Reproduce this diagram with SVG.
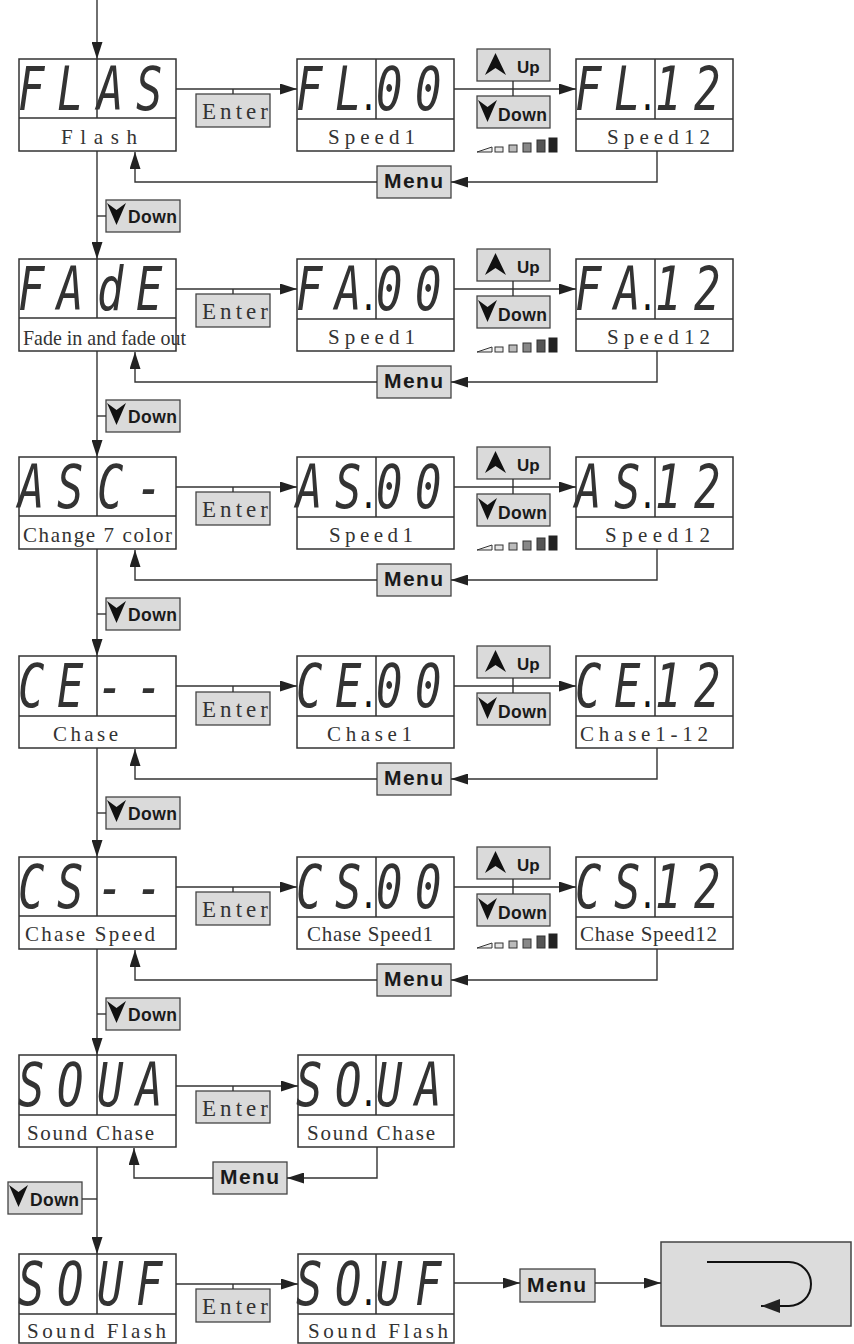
<svg xmlns="http://www.w3.org/2000/svg" xmlns:xlink="http://www.w3.org/1999/xlink" width="854" height="1344" viewBox="0 0 854 1344">
<style>
.box{fill:#fff;stroke:#333;stroke-width:1.5}
.dv{fill:none;stroke:#333;stroke-width:1.5}
.btn{fill:#dadada;stroke:#444;stroke-width:1.3}
.ln{fill:none;stroke:#333;stroke-width:1.4}
.lbl{font-family:"Liberation Serif",serif;font-size:21px;fill:#333}
.ent{font-family:"Liberation Serif",serif;font-size:23px;fill:#333}
.bt{font-family:"Liberation Sans",Arial,sans-serif;font-weight:bold;fill:#1a1a1a}
.up{font-size:17px}
.dn{font-size:17.5px}
.mn{font-size:21px}
.seg{font-family:"DejaVu Sans Mono",monospace;font-size:61px;font-style:oblique;fill:#333}
.dp{font-size:32px;font-style:normal;font-weight:bold;fill:#111}
.chev{fill:#111}
</style>
<defs>
<marker id="ah" viewBox="0 0 17 11" refX="17" refY="5.5" markerWidth="17" markerHeight="11" orient="auto" markerUnits="userSpaceOnUse"><path d="M0,0 L17,5.5 L0,11 Z" fill="#222"/></marker>
<marker id="ahb" viewBox="0 0 19 14" refX="19" refY="7" markerWidth="19" markerHeight="14" orient="auto" markerUnits="userSpaceOnUse"><path d="M0,0 L19,7 L0,14 Z" fill="#222"/></marker>
<path id="cu" d="M0,22 L10.5,0 L21,22 L10.5,15 Z"/>
<path id="cd" d="M0,0 L9.5,7 L19,0 L9.5,22 Z"/>
<g id="bars">
<polygon points="477,152 492,147 492,152" fill="#eee" stroke="#333" stroke-width="1"/>
<rect x="495" y="147" width="8" height="5" fill="#e6e6e6" stroke="#333" stroke-width="1"/>
<rect x="509" y="145" width="8" height="7" fill="#bbb" stroke="#333" stroke-width="1"/>
<rect x="523" y="143" width="8" height="9" fill="#888" stroke="#333" stroke-width="1"/>
<rect x="537" y="140" width="8" height="12" fill="#555" stroke="#333" stroke-width="1"/>
<rect x="549" y="138" width="8" height="14" fill="#222" stroke="#222" stroke-width="1"/>
</g>
</defs>
<rect width="854" height="1344" fill="#fff"/>

<!-- Row 1 -->
<g transform="translate(0,0)">
<g id="flash"><rect class="box" x="19" y="59" width="157" height="92"/><path class="dv" d="M19,118H176M97,59V118"/><text class="seg" transform="translate(18,110) scale(0.72,1)" x="0 54">FL</text><text class="seg" transform="translate(97,110) scale(0.72,1)" x="0 54">AS</text><text class="lbl" x="61" y="144" textLength="76">Flash</text></g>
<g id="flash-enter"><rect class="btn" x="196" y="94" width="74" height="33"/><text class="ent" x="202" y="119" textLength="66">Enter</text></g>
<g id="flash-speed1"><rect class="box" x="297" y="59" width="157" height="92"/><path class="dv" d="M297,119H454M376,59V119"/><text class="seg" transform="translate(296,110) scale(0.72,1)" x="0 54">FL<tspan class="dp" x="91">.</tspan></text><text class="seg" transform="translate(376,110) scale(0.72,1)" x="0 54">00</text><text class="lbl" x="328" y="144" textLength="87">Speed1</text></g>
<g id="flash-up"><rect class="btn" x="477" y="49" width="73" height="32"/><use href="#cu" class="chev" x="485" y="53"/><text class="bt up" x="517" y="73">Up</text></g>
<g id="flash-down"><rect class="btn" x="477" y="96" width="73" height="32"/><use href="#cd" class="chev" x="478" y="100"/><text class="bt dn" x="498" y="121" textLength="49">Down</text></g>
<g id="flash-bars"><use href="#bars"/></g>
<g id="flash-speed12"><rect class="box" x="576" y="59" width="157" height="92"/><path class="dv" d="M576,119H733M655,59V119"/><text class="seg" transform="translate(575,110) scale(0.72,1)" x="0 54">FL<tspan class="dp" x="91">.</tspan></text><text class="seg" transform="translate(655,110) scale(0.72,1)" x="0 54">12</text><text class="lbl" x="607" y="144" textLength="103">Speed12</text></g>
<g id="flash-menu"><rect class="btn" x="377" y="166" width="74" height="32"/><text class="bt mn" x="384" y="188" textLength="59">Menu</text></g>
<g id="flash-downkey"><rect class="btn" x="106" y="200" width="74" height="32"/><use href="#cd" class="chev" x="107" y="203"/><text class="bt dn" x="128" y="223" textLength="49">Down</text></g>
</g>

<!-- Row 2 -->
<g transform="translate(0,200)">
<g id="fade"><rect class="box" x="19" y="59" width="157" height="92"/><path class="dv" d="M19,118H176M97,59V118"/><text class="seg" transform="translate(18,110) scale(0.72,1)" x="0 54">FA</text><text class="seg" transform="translate(97,110) scale(0.72,1)" x="0 54">dE</text><text class="lbl" x="23" y="145" textLength="163" lengthAdjust="spacingAndGlyphs">Fade in and fade out</text></g>
<g id="fade-enter"><rect class="btn" x="196" y="94" width="74" height="33"/><text class="ent" x="202" y="119" textLength="66">Enter</text></g>
<g id="fade-speed1"><rect class="box" x="297" y="59" width="157" height="92"/><path class="dv" d="M297,119H454M376,59V119"/><text class="seg" transform="translate(296,110) scale(0.72,1)" x="0 54">FA<tspan class="dp" x="91">.</tspan></text><text class="seg" transform="translate(376,110) scale(0.72,1)" x="0 54">00</text><text class="lbl" x="328" y="144" textLength="87">Speed1</text></g>
<g id="fade-up"><rect class="btn" x="477" y="49" width="73" height="32"/><use href="#cu" class="chev" x="485" y="53"/><text class="bt up" x="517" y="73">Up</text></g>
<g id="fade-down"><rect class="btn" x="477" y="96" width="73" height="32"/><use href="#cd" class="chev" x="478" y="100"/><text class="bt dn" x="498" y="121" textLength="49">Down</text></g>
<g id="fade-bars"><use href="#bars"/></g>
<g id="fade-speed12"><rect class="box" x="576" y="59" width="157" height="92"/><path class="dv" d="M576,119H733M655,59V119"/><text class="seg" transform="translate(575,110) scale(0.72,1)" x="0 54">FA<tspan class="dp" x="91">.</tspan></text><text class="seg" transform="translate(655,110) scale(0.72,1)" x="0 54">12</text><text class="lbl" x="607" y="144" textLength="103">Speed12</text></g>
<g id="fade-menu"><rect class="btn" x="377" y="166" width="74" height="32"/><text class="bt mn" x="384" y="188" textLength="59">Menu</text></g>
<g id="fade-downkey"><rect class="btn" x="106" y="200" width="74" height="32"/><use href="#cd" class="chev" x="107" y="203"/><text class="bt dn" x="128" y="223" textLength="49">Down</text></g>
</g>

<!-- Row 3 -->
<g transform="translate(0,398)">
<g id="asc"><rect class="box" x="19" y="59" width="157" height="92"/><path class="dv" d="M19,118H176M97,59V118"/><text class="seg" transform="translate(18,110) scale(0.72,1)" x="0 54">AS</text><text class="seg" transform="translate(97,110) scale(0.72,1)" x="0 54">C-</text><text class="lbl" x="23" y="144" textLength="149">Change 7 color</text></g>
<g id="asc-enter"><rect class="btn" x="196" y="94" width="74" height="33"/><text class="ent" x="202" y="119" textLength="66">Enter</text></g>
<g id="asc-speed1"><rect class="box" x="297" y="59" width="157" height="92"/><path class="dv" d="M297,119H454M376,59V119"/><text class="seg" transform="translate(296,110) scale(0.72,1)" x="0 54">AS<tspan class="dp" x="91">.</tspan></text><text class="seg" transform="translate(376,110) scale(0.72,1)" x="0 54">00</text><text class="lbl" x="329" y="144" textLength="84">Speed1</text></g>
<g id="asc-up"><rect class="btn" x="477" y="49" width="73" height="32"/><use href="#cu" class="chev" x="485" y="53"/><text class="bt up" x="517" y="73">Up</text></g>
<g id="asc-down"><rect class="btn" x="477" y="96" width="73" height="32"/><use href="#cd" class="chev" x="478" y="100"/><text class="bt dn" x="498" y="121" textLength="49">Down</text></g>
<g id="asc-bars"><use href="#bars"/></g>
<g id="asc-speed12"><rect class="box" x="576" y="59" width="157" height="92"/><path class="dv" d="M576,119H733M655,59V119"/><text class="seg" transform="translate(575,110) scale(0.72,1)" x="0 54">AS<tspan class="dp" x="91">.</tspan></text><text class="seg" transform="translate(655,110) scale(0.72,1)" x="0 54">12</text><text class="lbl" x="605" y="144" textLength="105">Speed12</text></g>
<g id="asc-menu"><rect class="btn" x="377" y="166" width="74" height="32"/><text class="bt mn" x="384" y="188" textLength="59">Menu</text></g>
<g id="asc-downkey"><rect class="btn" x="106" y="200" width="74" height="32"/><use href="#cd" class="chev" x="107" y="203"/><text class="bt dn" x="128" y="223" textLength="49">Down</text></g>
</g>

<!-- Row 4 -->
<g transform="translate(0,597)">
<g id="chase"><rect class="box" x="19" y="59" width="157" height="92"/><path class="dv" d="M19,119H176M97,59V119"/><text class="seg" transform="translate(18,110) scale(0.72,1)" x="0 54">CE</text><text class="seg" transform="translate(97,110) scale(0.72,1)" x="0 54">--</text><text class="lbl" x="53" y="144" textLength="65">Chase</text></g>
<g id="chase-enter"><rect class="btn" x="196" y="95" width="74" height="33"/><text class="ent" x="202" y="120" textLength="66">Enter</text></g>
<g id="chase-1"><rect class="box" x="297" y="59" width="157" height="92"/><path class="dv" d="M297,119H454M376,59V119"/><text class="seg" transform="translate(296,110) scale(0.72,1)" x="0 54">CE<tspan class="dp" x="91">.</tspan></text><text class="seg" transform="translate(376,110) scale(0.72,1)" x="0 54">00</text><text class="lbl" x="327" y="144" textLength="85">Chase1</text></g>
<g id="chase-up"><rect class="btn" x="477" y="49" width="73" height="32"/><use href="#cu" class="chev" x="485" y="53"/><text class="bt up" x="517" y="73">Up</text></g>
<g id="chase-down"><rect class="btn" x="477" y="96" width="73" height="32"/><use href="#cd" class="chev" x="478" y="100"/><text class="bt dn" x="498" y="121" textLength="49">Down</text></g>
<g id="chase-12"><rect class="box" x="576" y="59" width="157" height="92"/><path class="dv" d="M576,119H733M655,59V119"/><text class="seg" transform="translate(575,110) scale(0.72,1)" x="0 54">CE<tspan class="dp" x="91">.</tspan></text><text class="seg" transform="translate(655,110) scale(0.72,1)" x="0 54">12</text><text class="lbl" x="580" y="144" textLength="128">Chase1-12</text></g>
<g id="chase-menu"><rect class="btn" x="377" y="166" width="74" height="32"/><text class="bt mn" x="384" y="188" textLength="59">Menu</text></g>
<g id="chase-downkey"><rect class="btn" x="106" y="200" width="74" height="32"/><use href="#cd" class="chev" x="107" y="203"/><text class="bt dn" x="128" y="223" textLength="49">Down</text></g>
</g>

<!-- Row 5 -->
<g transform="translate(0,798)">
<g id="chasespeed"><rect class="box" x="19" y="59" width="157" height="92"/><path class="dv" d="M19,118H176M97,59V118"/><text class="seg" transform="translate(18,110) scale(0.72,1)" x="0 54">CS</text><text class="seg" transform="translate(97,110) scale(0.72,1)" x="0 54">--</text><text class="lbl" x="25" y="143" textLength="130">Chase Speed</text></g>
<g id="chasespeed-enter"><rect class="btn" x="196" y="94" width="74" height="33"/><text class="ent" x="202" y="119" textLength="66">Enter</text></g>
<g id="chasespeed-1"><rect class="box" x="297" y="59" width="157" height="92"/><path class="dv" d="M297,119H454M376,59V119"/><text class="seg" transform="translate(296,110) scale(0.72,1)" x="0 54">CS<tspan class="dp" x="91">.</tspan></text><text class="seg" transform="translate(376,110) scale(0.72,1)" x="0 54">00</text><text class="lbl" x="307" y="143" textLength="126">Chase Speed1</text></g>
<g id="chasespeed-up"><rect class="btn" x="477" y="49" width="73" height="32"/><use href="#cu" class="chev" x="485" y="53"/><text class="bt up" x="517" y="73">Up</text></g>
<g id="chasespeed-down"><rect class="btn" x="477" y="96" width="73" height="32"/><use href="#cd" class="chev" x="478" y="100"/><text class="bt dn" x="498" y="121" textLength="49">Down</text></g>
<g id="chasespeed-bars"><use href="#bars" y="-2"/></g>
<g id="chasespeed-12"><rect class="box" x="576" y="59" width="157" height="92"/><path class="dv" d="M576,119H733M655,59V119"/><text class="seg" transform="translate(575,110) scale(0.72,1)" x="0 54">CS<tspan class="dp" x="91">.</tspan></text><text class="seg" transform="translate(655,110) scale(0.72,1)" x="0 54">12</text><text class="lbl" x="580" y="143" textLength="137">Chase Speed12</text></g>
<g id="chasespeed-menu"><rect class="btn" x="377" y="166" width="74" height="32"/><text class="bt mn" x="384" y="188" textLength="59">Menu</text></g>
<g id="chasespeed-downkey"><rect class="btn" x="106" y="200" width="74" height="32"/><use href="#cd" class="chev" x="107" y="203"/><text class="bt dn" x="128" y="223" textLength="49">Down</text></g>
</g>

<!-- Row 6 -->
<g transform="translate(0,996)">
<g id="soundchase"><rect class="box" x="19" y="59" width="157" height="92"/><path class="dv" d="M19,119H176M97,59V119"/><text class="seg" transform="translate(18,110) scale(0.72,1)" x="0 54">SO</text><text class="seg" transform="translate(97,110) scale(0.72,1)" x="0 54">UA</text><text class="lbl" x="27" y="144" textLength="127">Sound Chase</text></g>
<g id="soundchase-enter"><rect class="btn" x="196" y="95" width="74" height="32"/><text class="ent" x="202" y="120" textLength="66">Enter</text></g>
<g id="soundchase-on"><rect class="box" x="298" y="59" width="156" height="92"/><path class="dv" d="M298,119H454M376,59V119"/><text class="seg" transform="translate(296,110) scale(0.72,1)" x="0 54">SO<tspan class="dp" x="91">.</tspan></text><text class="seg" transform="translate(376,110) scale(0.72,1)" x="0 54">UA</text><text class="lbl" x="307" y="144" textLength="128">Sound Chase</text></g>
<g id="soundchase-menu"><rect class="btn" x="213" y="166" width="74" height="32"/><text class="bt mn" x="220" y="188" textLength="59">Menu</text></g>
<g id="soundchase-downkey"><rect class="btn" x="8" y="186" width="74" height="32"/><use href="#cd" class="chev" x="9" y="189"/><text class="bt dn" x="30" y="210" textLength="49">Down</text></g>
</g>

<!-- Row 7 -->
<g transform="translate(0,1195)">
<g id="soundflash"><rect class="box" x="19" y="59" width="157" height="89"/><path class="dv" d="M19,119H176M97,59V119"/><text class="seg" transform="translate(18,110) scale(0.72,1)" x="0 54">SO</text><text class="seg" transform="translate(97,110) scale(0.72,1)" x="0 54">UF</text><text class="lbl" x="27" y="143" textLength="139">Sound Flash</text></g>
<g id="soundflash-enter"><rect class="btn" x="196" y="94" width="74" height="33"/><text class="ent" x="202" y="119" textLength="66">Enter</text></g>
<g id="soundflash-on"><rect class="box" x="298" y="59" width="156" height="89"/><path class="dv" d="M298,119H454M376,59V119"/><text class="seg" transform="translate(296,110) scale(0.72,1)" x="0 54">SO<tspan class="dp" x="91">.</tspan></text><text class="seg" transform="translate(376,110) scale(0.72,1)" x="0 54">UF</text><text class="lbl" x="308" y="143" textLength="140">Sound Flash</text></g>
<g id="soundflash-menu"><rect class="btn" x="520" y="74" width="75" height="33"/><text class="bt mn" x="527" y="97" textLength="59">Menu</text></g>
<g id="return-box"><rect x="661" y="47" width="190" height="84" fill="#dcdcdc" stroke="#444" stroke-width="1.5"/></g>
</g>

<!-- Connectors -->
<g id="connectors">
<path class="ln" d="M97,0V59" marker-end="url(#ah)"/>
<g transform="translate(0,0)">
<path class="ln" d="M176,89H297" marker-end="url(#ah)"/><path class="ln" d="M233,89V94"/>
<path class="ln" d="M454,89H576" marker-end="url(#ah)"/><path class="ln" d="M513,81V96"/>
<path class="ln" d="M657,151V182H451" marker-end="url(#ah)"/><path class="ln" d="M377,182H135V152" marker-end="url(#ah)"/>
<path class="ln" d="M97,151V259" marker-end="url(#ah)"/><path class="ln" d="M97,216H106"/>
</g>
<g transform="translate(0,200)">
<path class="ln" d="M176,89H297" marker-end="url(#ah)"/><path class="ln" d="M233,89V94"/>
<path class="ln" d="M454,89H576" marker-end="url(#ah)"/><path class="ln" d="M513,81V96"/>
<path class="ln" d="M657,151V182H451" marker-end="url(#ah)"/><path class="ln" d="M377,182H135V152" marker-end="url(#ah)"/>
<path class="ln" d="M97,151V257" marker-end="url(#ah)"/><path class="ln" d="M97,216H106"/>
</g>
<g transform="translate(0,398)">
<path class="ln" d="M176,89H297" marker-end="url(#ah)"/><path class="ln" d="M233,89V94"/>
<path class="ln" d="M454,89H576" marker-end="url(#ah)"/><path class="ln" d="M513,81V96"/>
<path class="ln" d="M657,151V182H451" marker-end="url(#ah)"/><path class="ln" d="M377,182H135V152" marker-end="url(#ah)"/>
<path class="ln" d="M97,151V258" marker-end="url(#ah)"/><path class="ln" d="M97,216H106"/>
</g>
<g transform="translate(0,597)">
<path class="ln" d="M176,89H297" marker-end="url(#ah)"/><path class="ln" d="M233,89V95"/>
<path class="ln" d="M454,89H576" marker-end="url(#ah)"/><path class="ln" d="M513,81V96"/>
<path class="ln" d="M657,151V182H451" marker-end="url(#ah)"/><path class="ln" d="M377,182H135V152" marker-end="url(#ah)"/>
<path class="ln" d="M97,151V260" marker-end="url(#ah)"/><path class="ln" d="M97,216H106"/>
</g>
<g transform="translate(0,798)">
<path class="ln" d="M176,89H297" marker-end="url(#ah)"/><path class="ln" d="M233,89V94"/>
<path class="ln" d="M454,89H576" marker-end="url(#ah)"/><path class="ln" d="M513,81V96"/>
<path class="ln" d="M657,151V182H451" marker-end="url(#ah)"/><path class="ln" d="M377,182H135V152" marker-end="url(#ah)"/>
<path class="ln" d="M97,151V257" marker-end="url(#ah)"/><path class="ln" d="M97,216H106"/>
</g>
<g transform="translate(0,996)">
<path class="ln" d="M176,90H298" marker-end="url(#ah)"/><path class="ln" d="M233,90V95"/>
<path class="ln" d="M377,151V182H287" marker-end="url(#ah)"/><path class="ln" d="M213,182H134V152" marker-end="url(#ah)"/>
<path class="ln" d="M97,151V258" marker-end="url(#ah)"/><path class="ln" d="M82,203H97"/>
</g>
<g transform="translate(0,1195)">
<path class="ln" d="M176,89H298" marker-end="url(#ah)"/><path class="ln" d="M233,89V94"/>
<path class="ln" d="M454,88H520" marker-end="url(#ah)"/>
<path class="ln" d="M595,88H661" marker-end="url(#ah)"/>
</g>
<path d="M707,1262H789A22,22 0 0 1 789,1306H761" fill="none" stroke="#111" stroke-width="2" marker-end="url(#ahb)"/>
</g>
</svg>
